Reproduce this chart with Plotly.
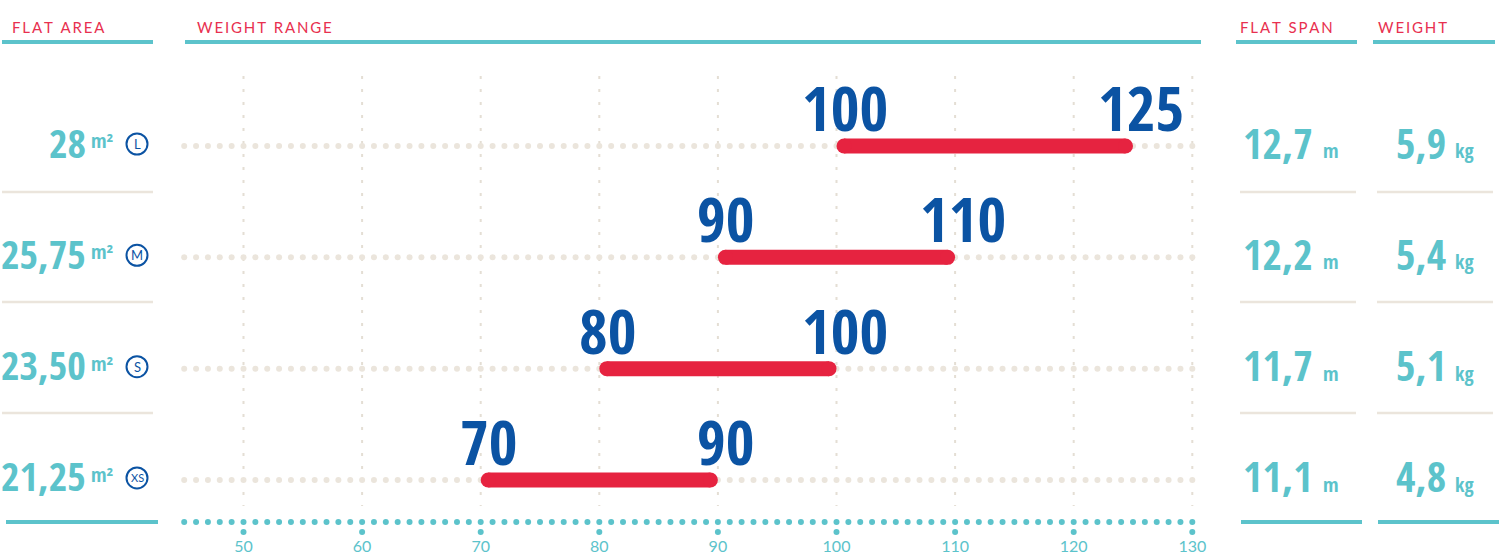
import plotly.graph_objects as go
import numpy as np

# ---------------- data ----------------
sizes = ["L", "M", "S", "XS"]
flat_area = ["28", "25,75", "23,50", "21,25"]
weight_min = [100, 90, 80, 70]
weight_max = [125, 110, 100, 90]
flat_span = ["12,7", "12,2", "11,7", "11,1"]
kite_weight = ["5,9", "5,4", "5,1", "4,8"]
x_ticks = [50, 60, 70, 80, 90, 100, 110, 120, 130]
headers = ["FLAT AREA", "WEIGHT RANGE", "FLAT SPAN", "WEIGHT"]
row_pos = [4, 3, 2, 1]

# ---------------- style ----------------
W, H = 1508, 557
TEAL = "#5cc3cb"
RED = "#e62340"
HEAD_RED = "#e8304f"
BLUE = "#0b53a3"
BEIGE = "#ebe5dc"
GRID = "#e4ded4"
NUM_FONT = "Open Sans Condensed, Roboto Condensed, DejaVu Sans Condensed, sans-serif"
TXT_FONT = "Lato, Open Sans, sans-serif"

PX_PER_X = 11.86
X0_PX = 184.2  # pixel of x=45
x_range = [45 - X0_PX / PX_PER_X, 45 + (W - X0_PX) / PX_PER_X]
PX_PER_ROW = 111.33
ROW4_PX = 146
y_range = [4 - (H - ROW4_PX) / PX_PER_ROW, 4 + ROW4_PX / PX_PER_ROW]
BAR_W = 15
CAP = (BAR_W / 2) / PX_PER_X  # round cap radius in data units


def ydata(p):
    return 4 - (p - ROW4_PX) / PX_PER_ROW


def px(x):
    return x / W


def py(y):
    return 1 - y / H


fig = go.Figure()

dot_x = np.arange(45, 131)

# row dotted guide lines
for r in row_pos:
    fig.add_trace(go.Scatter(x=dot_x, y=[r] * len(dot_x), mode="markers",
                             marker=dict(size=6, color=BEIGE), hoverinfo="skip",
                             showlegend=False))

# baseline teal dots
base_y = ydata(522)
fig.add_trace(go.Scatter(x=dot_x, y=[base_y] * len(dot_x), mode="markers",
                         marker=dict(size=6, color=TEAL), hoverinfo="skip",
                         showlegend=False))
# tick dots + labels
fig.add_trace(go.Scatter(x=x_ticks, y=[ydata(532)] * len(x_ticks), mode="markers",
                         marker=dict(size=6, color=TEAL), hoverinfo="skip",
                         showlegend=False))
fig.add_trace(go.Scatter(x=x_ticks, y=[ydata(548)] * len(x_ticks), mode="text",
                         text=[str(t) for t in x_ticks],
                         textfont=dict(family=TXT_FONT, size=16, color=TEAL),
                         hoverinfo="skip", showlegend=False))

# vertical dotted grid
shapes = []
for t in x_ticks:
    shapes.append(dict(type="line", xref="x", yref="paper", x0=t, x1=t,
                       y0=py(76), y1=py(506),
                       line=dict(color=GRID, width=2, dash="3px,10px"), layer="below"))

# range bars (round caps via end markers)
for r, lo, hi in zip(row_pos, weight_min, weight_max):
    fig.add_trace(go.Scatter(x=[lo + CAP, hi - CAP], y=[r, r], mode="lines+markers",
                             line=dict(color=RED, width=BAR_W),
                             marker=dict(size=BAR_W, color=RED),
                             hoverinfo="skip", showlegend=False))

annotations = []
# range labels
for r, lo, hi in zip(row_pos, weight_min, weight_max):
    for v in (lo, hi):
        annotations.append(dict(x=v, y=r, xref="x", yref="y", text=str(v),
                                showarrow=False, xanchor="center", yanchor="bottom",
                                xshift=8, yshift=-5,
                                font=dict(family=NUM_FONT, size=62, color=BLUE, weight="bold")))

# left column: flat area
for r, val, s in zip(row_pos, flat_area, sizes):
    annotations.append(dict(x=px(88), y=r, xref="paper", yref="y", text=val,
                            showarrow=False, xanchor="right", yanchor="middle", yshift=4,
                            font=dict(family=NUM_FONT, size=40, color=TEAL, weight="bold")))
    annotations.append(dict(x=px(89), y=r, xref="paper", yref="y", text="m²",
                            showarrow=False, xanchor="left", yanchor="bottom", yshift=-10,
                            font=dict(family=NUM_FONT, size=20, color=TEAL, weight="bold")))
    annotations.append(dict(x=px(137), y=r, xref="paper", yref="y", text=s,
                            showarrow=False, xanchor="center", yanchor="middle", yshift=2,
                            font=dict(family=TXT_FONT, size=13 if len(s) == 1 else 11,
                                      color=BLUE)))
    shapes.append(dict(type="circle", xref="paper", yref="y", xsizemode="pixel",
                       ysizemode="pixel", xanchor=px(137), yanchor=r,
                       x0=-10.5, x1=10.5, y0=-8.5, y1=12.5,
                       line=dict(color=BLUE, width=2)))

# right columns: flat span and weight
for r, span, wt in zip(row_pos, flat_span, kite_weight):
    annotations.append(dict(x=px(1315), y=r, xref="paper", yref="y", text=span,
                            showarrow=False, xanchor="right", yanchor="middle", yshift=4,
                            font=dict(family=NUM_FONT, size=42, color=TEAL, weight="bold")))
    annotations.append(dict(x=px(1321), y=r, xref="paper", yref="y", text="m",
                            showarrow=False, xanchor="left", yanchor="bottom", yshift=-20,
                            font=dict(family=NUM_FONT, size=20, color=TEAL, weight="bold")))
    annotations.append(dict(x=px(1448), y=r, xref="paper", yref="y", text=wt,
                            showarrow=False, xanchor="right", yanchor="middle", yshift=4,
                            font=dict(family=NUM_FONT, size=42, color=TEAL, weight="bold")))
    annotations.append(dict(x=px(1453), y=r, xref="paper", yref="y", text="kg",
                            showarrow=False, xanchor="left", yanchor="bottom", yshift=-20,
                            font=dict(family=NUM_FONT, size=20, color=TEAL, weight="bold")))

# headers
head_x = [10, 195, 1238, 1376]
for hx, h in zip(head_x, headers):
    spaced = "\u2009".join(list(h))
    annotations.append(dict(x=px(hx), y=py(27), xref="paper", yref="paper", text=spaced,
                            showarrow=False, xanchor="left", yanchor="middle",
                            font=dict(family=TXT_FONT, size=15, color=HEAD_RED)))

# header lines (teal)
for x0, x1 in [(2, 153), (185, 1201), (1236, 1357), (1373, 1495)]:
    shapes.append(dict(type="line", xref="paper", yref="paper", x0=px(x0), x1=px(x1),
                       y0=py(42), y1=py(42), line=dict(color=TEAL, width=4)))

# row separators (beige)
for ypx in [192, 302, 413]:
    for x0, x1 in [(2, 153), (1240, 1356), (1377, 1493)]:
        shapes.append(dict(type="line", xref="paper", yref="paper", x0=px(x0), x1=px(x1),
                           y0=py(ypx), y1=py(ypx), line=dict(color=BEIGE, width=2.5)))

# bottom lines (teal)
for x0, x1 in [(6, 158), (1241, 1362), (1378, 1499)]:
    shapes.append(dict(type="line", xref="paper", yref="paper", x0=px(x0), x1=px(x1),
                       y0=py(522), y1=py(522), line=dict(color=TEAL, width=4)))

fig.update_layout(
    width=W, height=H,
    margin=dict(l=0, r=0, t=0, b=0),
    paper_bgcolor="white", plot_bgcolor="white",
    xaxis=dict(range=x_range, visible=False, fixedrange=True),
    yaxis=dict(range=y_range, visible=False, fixedrange=True),
    shapes=shapes, annotations=annotations,
    showlegend=False,
)

fig.write_html("out.html", config={"displayModeBar": False},
               post_script="document.body.style.margin='0';")
